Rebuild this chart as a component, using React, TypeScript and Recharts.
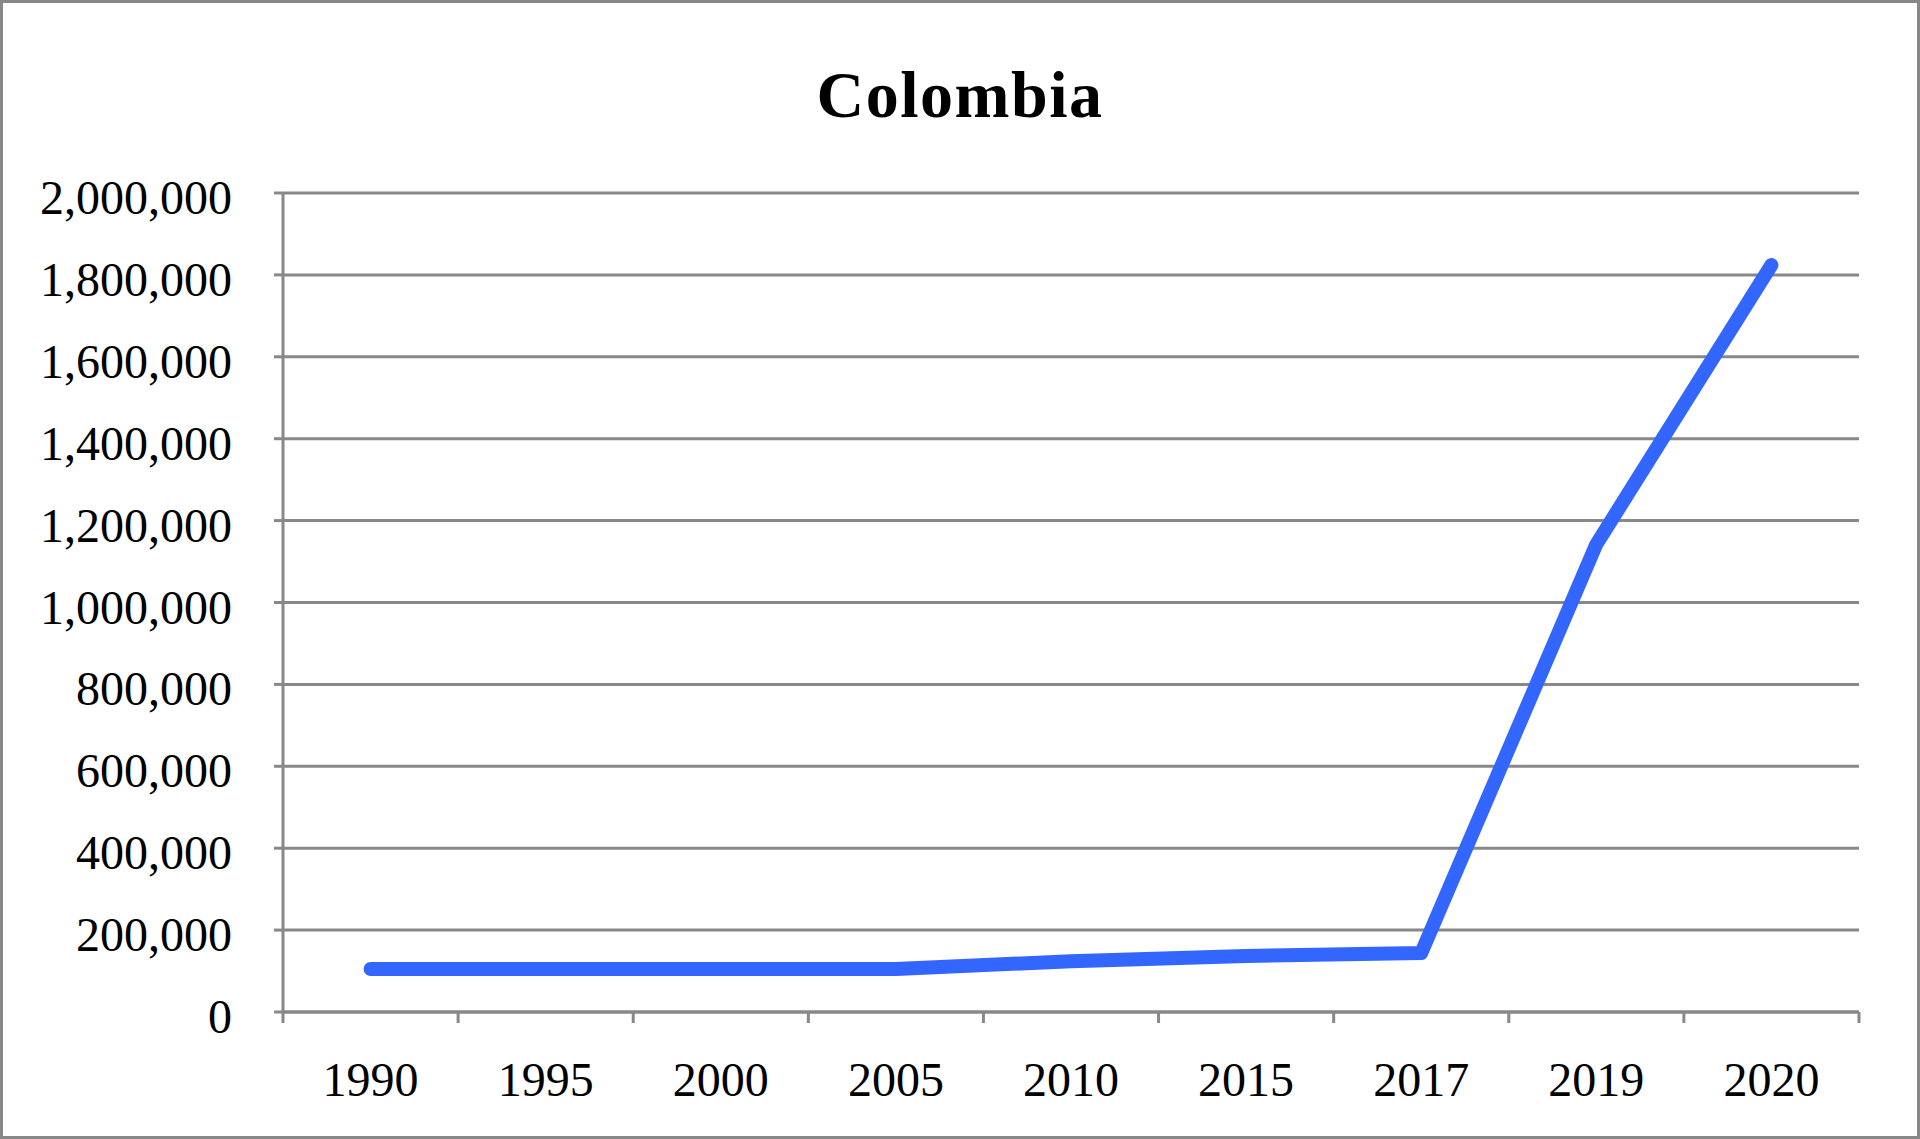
import React from 'react';
import { LineChart, Line, XAxis, YAxis, CartesianGrid } from 'recharts';

const title = 'Colombia';
const years = ['1990', '1995', '2000', '2005', '2010', '2015', '2017', '2019', '2020'];
const values = [105000, 105000, 105000, 105000, 124000, 137000, 144000, 1142000, 1824000];
const yTicks = [0, 200000, 400000, 600000, 800000, 1000000, 1200000, 1400000, 1600000, 1800000, 2000000];

const data = years.map((year, i) => ({ pos: i + 0.5, year, value: values[i] }));
const xTicks: number[] = [];
for (let i = 0; i <= years.length; i++) {
  xTicks.push(i);
  if (i < years.length) xTicks.push(i + 0.5);
}

const FONT = '"Liberation Serif", "Times New Roman", serif';
const GREY = '#888888';

const XTick = (props: any) => {
  const { x, y, payload } = props;
  const v = payload.value as number;
  if (Number.isInteger(v)) {
    return <line x1={x} x2={x} y1={y} y2={y + 11} stroke={GREY} strokeWidth={3} />;
  }
  return (
    <text x={x} y={y + 84} textAnchor="middle" fontSize={48} fontFamily={FONT} fill="#000">
      {years[Math.floor(v)]}
    </text>
  );
};

const YTick = (props: any) => {
  const { x, y, payload } = props;
  return (
    <text x={x} y={y + 21} textAnchor="end" fontSize={48} fontFamily={FONT} fill="#000">
      {Number(payload.value).toLocaleString('en-US')}
    </text>
  );
};

export default function App() {
  return (
    <div style={{ position: 'absolute', left: 0, top: 0, width: 1920, height: 1139, background: '#fff' }}>
      <LineChart width={1920} height={1139} data={data} margin={{ top: 193, right: 61, left: 0, bottom: 0 }}>
        <CartesianGrid vertical={false} stroke={GREY} strokeWidth={3} />
        <XAxis
          xAxisId={0}
          type="number"
          dataKey="pos"
          domain={[0, years.length]}
          ticks={xTicks}
          interval={0}
          allowDecimals
          height={127}
          tickSize={0}
          tickMargin={0}
          tickLine={false}
          axisLine={{ stroke: GREY, strokeWidth: 3 }}
          tick={<XTick />}
        />
        <YAxis
          yAxisId={0}
          width={283}
          domain={[0, 2000000]}
          ticks={yTicks}
          interval={0}
          tickSize={9}
          tickMargin={42}
          tickLine={{ stroke: GREY, strokeWidth: 3 }}
          axisLine={{ stroke: GREY, strokeWidth: 3 }}
          tick={<YTick />}
        />
        <Line
          type="linear"
          dataKey="value"
          stroke="#3366FF"
          strokeWidth={14}
          strokeLinecap="round"
          strokeLinejoin="round"
          dot={false}
          activeDot={false}
          isAnimationActive={false}
        />
      </LineChart>
      <div
        style={{
          position: 'absolute',
          left: 0,
          width: 1920,
          top: 62,
          textAlign: 'center',
          fontFamily: FONT,
          fontWeight: 'bold',
          fontSize: 66,
          lineHeight: '66px',
          letterSpacing: 1.5,
          color: '#000',
        }}
      >
        {title}
      </div>
      <div
        style={{
          position: 'absolute',
          left: 0,
          top: 0,
          width: 1920,
          height: 1139,
          boxSizing: 'border-box',
          border: `3px solid ${GREY}`,
          pointerEvents: 'none',
        }}
      />
    </div>
  );
}
